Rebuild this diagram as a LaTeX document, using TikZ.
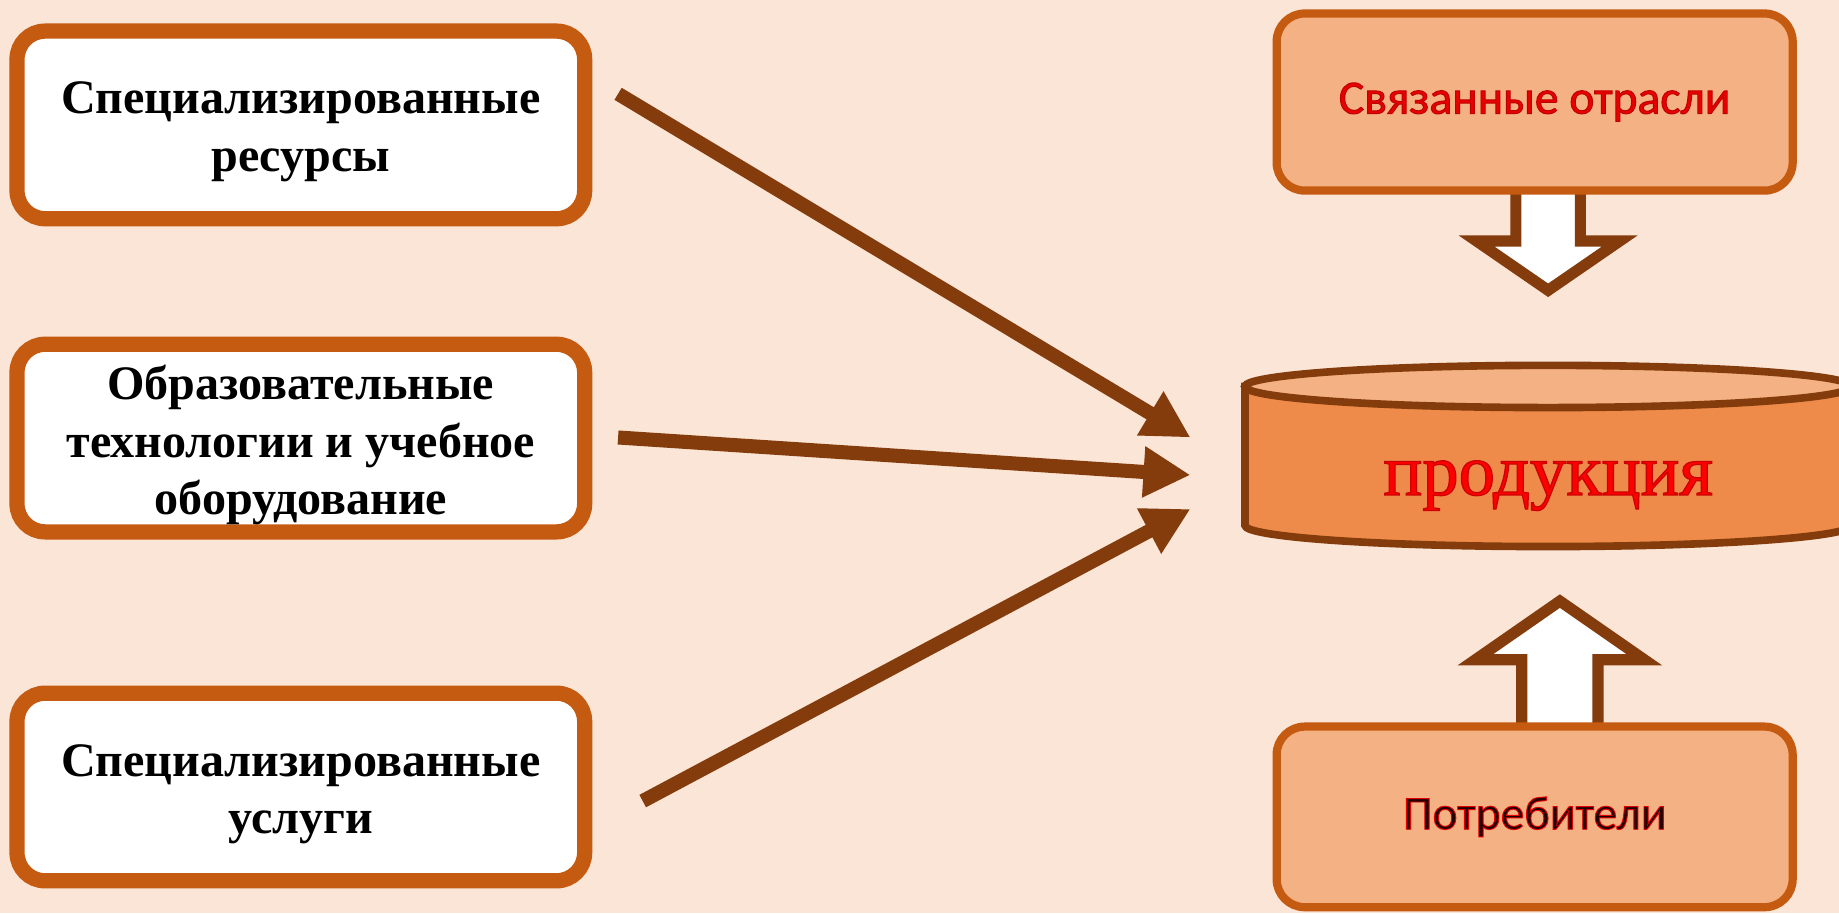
\documentclass[tikz,border=0pt]{standalone}
\usepackage{fontspec}
\setmainfont{Liberation Serif}
\newfontfamily\calibri[FakeBold=2]{Carlito}
\newfontfamily\prodfont[FakeBold=1.8]{Liberation Serif}
\usetikzlibrary{arrows.meta}
\definecolor{bg}{HTML}{FBE5D6}
\definecolor{boxborder}{HTML}{C55A11}
\definecolor{boxfill}{HTML}{F4B183}
\definecolor{arrbrown}{HTML}{843C0C}
\definecolor{bodyfill}{HTML}{EE8B4B}
\definecolor{redtext}{HTML}{E60000}
\definecolor{prodred}{HTML}{FF0000}
\definecolor{consred}{HTML}{200000}
\begin{document}
\begin{tikzpicture}[x=0.5pt,y=-0.5pt,
 leftbox/.style={draw=boxborder, fill=white, line width=6.5pt, rounded corners=12pt, minimum width=242pt, minimum height=80pt},
 lefttext/.style={align=center, font=\fontsize{20.5}{24.5}\selectfont\bfseries, inner sep=0pt},
 rightbox/.style={draw=boxborder, fill=boxfill, line width=3.5pt, rounded corners=12pt, minimum width=220pt, align=center, font=\calibri\fontsize{20.3}{24}\selectfont, inner sep=0pt},
 flow/.style={draw=arrbrown, line width=6pt, -{Triangle[length=20pt,width=20.5pt]}},
 blockarrow/.style={draw=arrbrown, fill=white, line width=4.75pt, line join=miter},
 cylline/.style={draw=arrbrown, line width=3.25pt}
]
\useasboundingbox (0,0) rectangle (1568,778.5);
\fill[bg] (0,0) rectangle (1568,778.5);

% left boxes
\node[leftbox] (res) at (256.5,106.5) {};
\node[leftbox] (edu) at (256.5,373.5) {};
\node[leftbox] (serv) at (256.5,671) {};
\node[lefttext] (restext) at ([yshift=-3pt]res.center) {Специализированные\\ресурсы};
\node[lefttext] (edutext) at ([yshift=-3pt]edu.center) {Образовательные\\технологии и учебное\\оборудование};
\node[lefttext] (servtext) at ([yshift=-3pt]serv.center) {Специализированные\\услуги};

% block arrows (behind boxes)
\draw[blockarrow] (1292.5,160) -- (1292.5,205.5) -- (1259,205.5) -- (1320,247.5) -- (1381,205.5) -- (1347.5,205.5) -- (1347.5,160) -- cycle;
\draw[blockarrow] (1297.5,625) -- (1297.5,562.5) -- (1258,562.5) -- (1330,512.5) -- (1402,562.5) -- (1362.5,562.5) -- (1362.5,625) -- cycle;

% right boxes
\node[rightbox, minimum height=75.5pt] (rel) at (1308.5,87) {\textcolor{redtext}{\special{pdf:literal 0.75 0 0 RG}Связанные отрасли}};
\node[rightbox, minimum height=77pt] (cons) at (1308.5,696.5) {\textcolor{consred}{\special{pdf:literal 0.9 0 0 RG}Потребители}};

% cylinder
\begin{scope}
\clip (0,0) rectangle (1568,778.5);
\draw[cylline, fill=bodyfill] (1061.5,329.5) -- (1061.5,448) arc[start angle=180, end angle=0, x radius=258.5, y radius=18] -- (1578.5,329.5) -- cycle;
\draw[cylline, fill=boxfill] (1320,329.5) ellipse [x radius=258.5, y radius=18];
\end{scope}
\node[font=\prodfont\fontsize{31}{36}\selectfont, anchor=base, inner sep=0pt] (prod) at (1320,422) {\textcolor{prodred}{\special{pdf:literal 0.8 0 0 RG}продукция}};

% flow arrows
\coordinate (s1) at (527,80);  \coordinate (e1) at (1015,373);
\coordinate (s2) at (527,373); \coordinate (e2) at (1015,405);
\coordinate (s3) at (548,683); \coordinate (e3) at (1015,434);
\draw[flow] (s1) -- (e1);
\draw[flow] (s2) -- (e2);
\draw[flow] (s3) -- (e3);
\end{tikzpicture}
\end{document}
